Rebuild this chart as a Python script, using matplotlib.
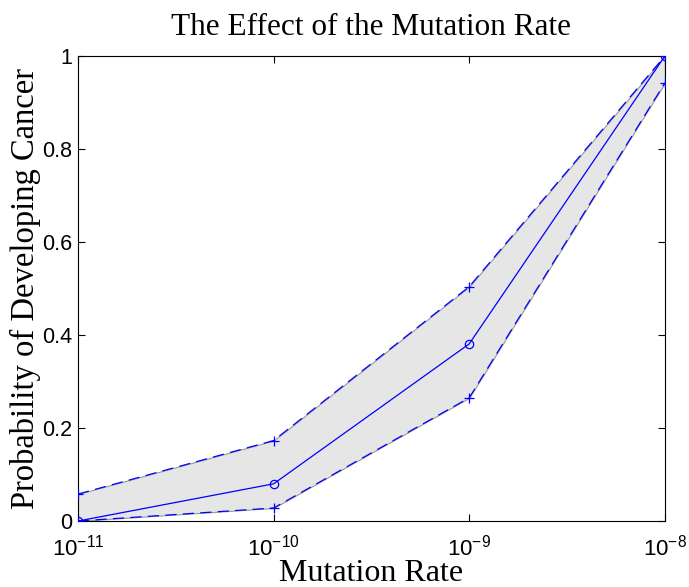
import matplotlib
matplotlib.use("Agg")
import matplotlib.pyplot as plt
from matplotlib.ticker import FixedLocator, FixedFormatter, NullLocator

plt.rcParams['mathtext.fontset'] = 'custom'
plt.rcParams['mathtext.rm'] = 'Liberation Sans'
plt.rcParams['mathtext.it'] = 'Liberation Sans'
plt.rcParams['mathtext.bf'] = 'Liberation Sans'

mutation_rate = [1e-11, 1e-10, 1e-9, 1e-8]
prob_mean = [0.0, 0.08, 0.381, 1.0]
prob_upper = [0.058, 0.173, 0.504, 1.0]
prob_lower = [0.0, 0.028, 0.265, 0.942]
yticks = [0, 0.2, 0.4, 0.6, 0.8, 1.0]
ytick_labels = ['0', '0.2', '0.4', '0.6', '0.8', '1']
xtick_labels = [r'$10^{-11}$', r'$10^{-10}$', r'$10^{-9}$', r'$10^{-8}$']

fig = plt.figure(figsize=(6.89, 5.87), dpi=100)
ax = fig.add_axes([0.1132, 0.1124, 0.8518, 0.7922])

blue = '#0000ff'
ax.fill_between(mutation_rate, prob_lower, prob_upper, facecolor='#e6e6e6',
                edgecolor='#999999', linewidth=0.8, zorder=1)
ax.plot(mutation_rate, prob_upper, linestyle=(0, (9, 5)), color=blue, lw=0.9,
        marker='+', markersize=7, markeredgewidth=0.9, zorder=3)
ax.plot(mutation_rate, prob_lower, linestyle=(0, (9, 5)), color=blue, lw=0.9,
        marker='+', markersize=7, markeredgewidth=0.9, zorder=3)
ax.plot(mutation_rate, prob_mean, linestyle='-', color=blue, lw=0.9,
        marker='o', markersize=6, markerfacecolor='none', markeredgewidth=0.9, zorder=4)

ax.set_xscale('log')
ax.set_xlim(1e-11, 1e-8)
ax.set_ylim(0, 1)
ax.xaxis.set_major_locator(FixedLocator(mutation_rate))
ax.xaxis.set_major_formatter(FixedFormatter(xtick_labels))
ax.xaxis.set_minor_locator(NullLocator())
ax.yaxis.set_major_locator(FixedLocator(yticks))
ax.yaxis.set_major_formatter(FixedFormatter(ytick_labels))

ax.tick_params(direction='in', top=True, right=True, length=5, width=0.8,
               labelsize=15.5)
ax.tick_params(axis='x', pad=10, labelsize=16)
ax.tick_params(axis='y', pad=4)
for lab in ax.get_xticklabels() + ax.get_yticklabels():
    lab.set_fontfamily('Liberation Sans')
for s in ax.spines.values():
    s.set_linewidth(0.8)

ax.set_title('The Effect of the Mutation Rate', fontfamily='Liberation Serif',
             fontsize=22.5, pad=15)
ax.set_xlabel('Mutation Rate', fontfamily='Liberation Serif', fontsize=23, labelpad=-1)
ax.set_ylabel('Probability of Developing Cancer', fontfamily='Liberation Serif',
              fontsize=23.5, labelpad=1)

fig.savefig('out.png', dpi=100)
